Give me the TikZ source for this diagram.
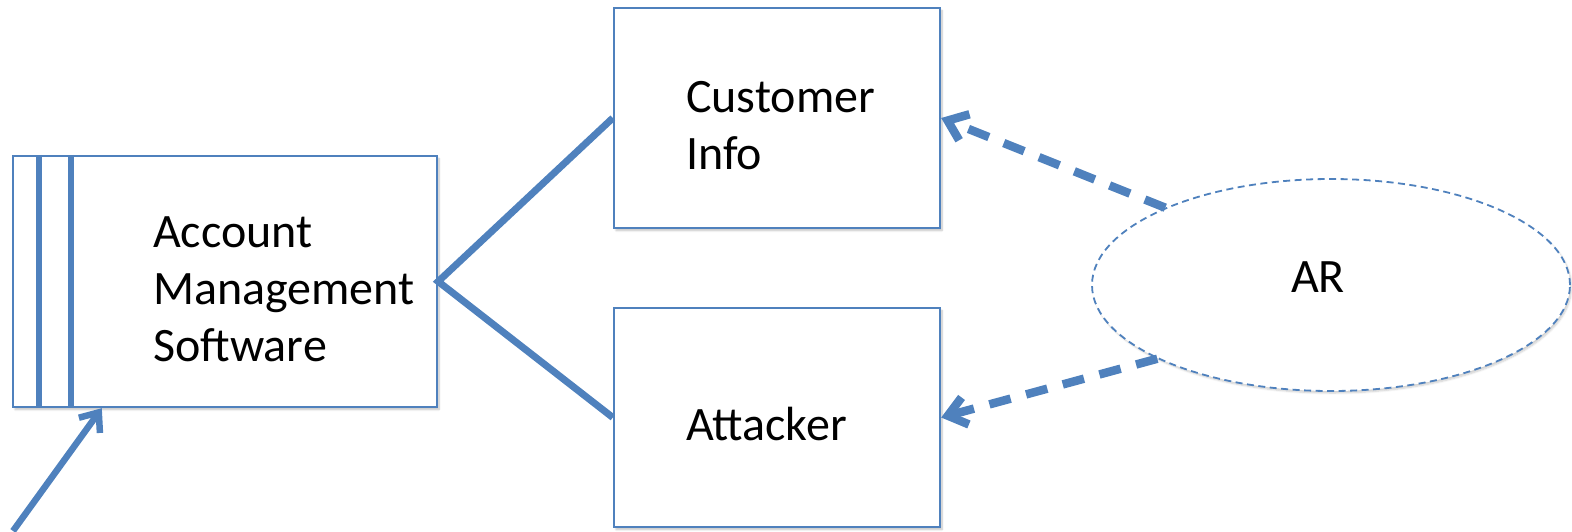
\documentclass[tikz,border=0pt]{standalone}
\usepackage{fontspec}
\setmainfont{Carlito}
\usetikzlibrary{arrows.meta,shapes.geometric,shadows.blur}
\definecolor{accent}{RGB}{79,129,189}

\begin{document}
\begin{tikzpicture}[x=1pt,y=-1pt,
  box/.style={draw=accent, line width=2.4pt, fill=white, rectangle, inner sep=0pt,
    blur shadow={shadow xshift=2pt, shadow yshift=-2.5pt, shadow blur steps=6, shadow opacity=25}},
  caption/.style={font=\fontsize{48}{57}\selectfont, align=left, inner sep=0pt, anchor=base west},
  link/.style={draw=accent, line width=7pt},
  threat/.style={draw=accent, line width=8.5pt, dash pattern=on 22pt off 16pt,
    -{Straight Barb[length=18pt, width=28pt]}},
  entry/.style={draw=accent, line width=6.5pt, -{Straight Barb[length=16pt, width=26pt]}},
  stripe/.style={draw=accent, line width=5.5pt}
]
\useasboundingbox (0,0) rectangle (1572,531);

% process box with its two stripes
\node[box, minimum width=424pt, minimum height=251pt] (ams) at (225,281.5) {};
\draw[stripe] ([xshift=27pt]ams.north west) -- ([xshift=27pt]ams.south west);
\draw[stripe] ([xshift=59pt]ams.north west) -- ([xshift=59pt]ams.south west);
\node[caption] (amstext) at (153,361) {Account\\Management\\Software};

% the two data boxes
\node[box, minimum width=326pt, minimum height=220pt] (ci) at (777,118) {};
\node[caption] (citext) at (686,169) {Customer\\Info};
\node[box, minimum width=326pt, minimum height=219pt] (att) at (777,417.5) {};
\node[caption] (atttext) at (686,440) {Attacker};

% the AR ellipse
\node[ellipse, draw=accent, line width=1.8pt, dash pattern=on 7pt off 4.5pt, fill=white,
  minimum width=478pt, minimum height=212pt, inner sep=0pt,
  blur shadow={shadow xshift=1.5pt, shadow yshift=-2pt, shadow blur steps=6, shadow opacity=20}]
  (ar) at (1331,285) {};
\node[font=\fontsize{48}{57}\selectfont, inner sep=0pt, anchor=base] (artext) at (1318,292) {AR};

% connectors
\draw[link] (ci.west) -- (ams.east) -- (att.west);
\draw[threat] (ar.155) -- (ci.east);
\draw[threat] (ar.203) -- (att.east);

\coordinate (src) at (13,531);
\draw[entry] (src) -- ([xshift=90pt]ams.south west);
\end{tikzpicture}
\end{document}
